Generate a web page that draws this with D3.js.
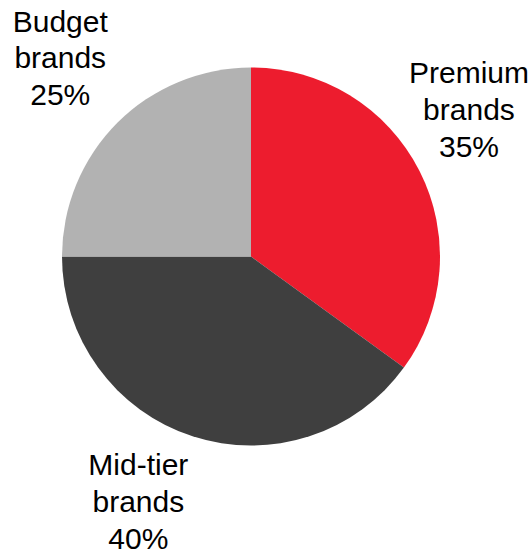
<!DOCTYPE html>
<html>
<head>
<meta charset="utf-8">
<script src="https://cdn.jsdelivr.net/npm/d3@7"></script>
<style>
  html, body { margin: 0; padding: 0; background: #ffffff; }
  svg { display: block; }
  text { font-family: "Liberation Sans", Arial, sans-serif; fill: #000; }
</style>
</head>
<body>
<script>
// Market share by brand tier
const categories = ["Premium brands", "Mid-tier brands", "Budget brands"];
const shares = [35, 40, 25];
const labelLines = [["Premium", "brands", "35%"], ["Mid-tier", "brands", "40%"], ["Budget", "brands", "25%"]];
const colors = ["#ED1C2E", "#3F3F3F", "#B2B2B2"];

const width = 532, height = 553;
const cx = 251, cy = 256.5, radius = 189;

const svg = d3.select("body").append("svg")
  .attr("width", width).attr("height", height);

const pie = d3.pie().sort(null).value(d => d.value);
const arcs = pie(categories.map((c, i) => ({ name: c, value: shares[i], lines: labelLines[i], color: colors[i] })));
const arc = d3.arc().innerRadius(0).outerRadius(radius);

const g = svg.append("g").attr("transform", `translate(${cx},${cy})`);
g.selectAll("path").data(arcs).join("path")
  .attr("d", arc)
  .attr("fill", d => d.data.color);

// Labels sit outside the pie, along each slice's mid-angle, nudged clear of the rim
const labelArc = d3.arc().innerRadius(radius * 1.33).outerRadius(radius * 1.33);
const fontSize = 30, lineGap = 36.7;
const labelOffsets = [{ dx: -6, dy: -33 }, { dx: -35, dy: 6 }, { dx: -13, dy: -21 }];

const labels = g.selectAll("g.label").data(arcs).join("g")
  .attr("class", "label")
  .attr("transform", (d, i) => {
    const [x, y] = labelArc.centroid(d);
    return `translate(${x + labelOffsets[i].dx},${y + labelOffsets[i].dy})`;
  });

labels.selectAll("text").data(d => d.data.lines.map((t, j, a) => ({ t, j, n: a.length })))
  .join("text")
  .attr("text-anchor", "middle")
  .attr("font-size", fontSize)
  .attr("y", d => (d.j - (d.n - 1) / 2) * lineGap)
  .attr("dy", "0.35em")
  .text(d => d.t);
</script>
</body>
</html>
